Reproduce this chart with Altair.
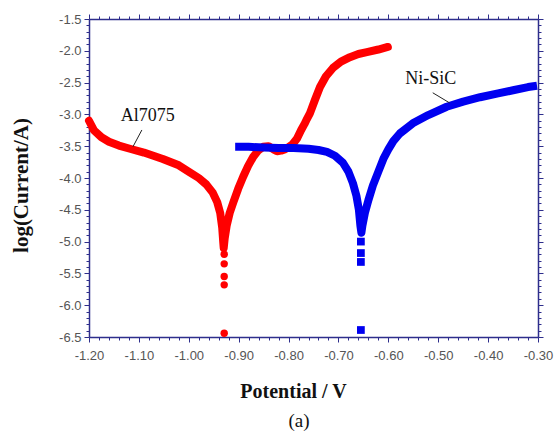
import altair as alt
import pandas as pd

# ---------------- data ----------------
al_x = [-1.200, -1.190, -1.175, -1.160, -1.140, -1.118, -1.090, -1.052, -1.020, -0.998,
        -0.980, -0.965, -0.952, -0.943, -0.937, -0.933, -0.931, -0.930, -0.928, -0.924,
        -0.918, -0.911, -0.901, -0.891, -0.881, -0.871, -0.861, -0.851, -0.840, -0.830,
        -0.823, -0.815, -0.808, -0.801, -0.792, -0.783, -0.775, -0.768, -0.763, -0.757,
        -0.747, -0.737, -0.725, -0.711, -0.695, -0.677, -0.660, -0.643, -0.620, -0.601]
al_y = [-3.10, -3.25, -3.36, -3.43, -3.49, -3.54, -3.60, -3.70, -3.80, -3.91,
        -4.00, -4.10, -4.23, -4.38, -4.55, -4.78, -5.00, -5.10, -4.95, -4.75,
        -4.55, -4.39, -4.17, -3.98, -3.81, -3.67, -3.57, -3.51, -3.50, -3.55,
        -3.58, -3.57, -3.55, -3.52, -3.47, -3.38, -3.25, -3.15, -3.07, -2.98,
        -2.77, -2.57, -2.40, -2.27, -2.17, -2.10, -2.05, -2.02, -1.98, -1.94]
al_dot_x = [-0.929, -0.929, -0.929, -0.929, -0.929]
al_dot_y = [-5.20, -5.35, -5.55, -5.68, -6.44]

ni_x = [-0.907, -0.880, -0.850, -0.820, -0.790, -0.760, -0.740, -0.723, -0.707, -0.691,
        -0.680, -0.671, -0.664, -0.659, -0.656, -0.654, -0.652, -0.647, -0.640, -0.631,
        -0.620, -0.610, -0.600, -0.590, -0.577, -0.551, -0.520, -0.483, -0.450, -0.416,
        -0.380, -0.350, -0.320, -0.302]
ni_y = [-3.51, -3.51, -3.52, -3.53, -3.53, -3.54, -3.56, -3.59, -3.65, -3.76,
        -3.90, -4.08, -4.28, -4.50, -4.75, -4.86, -4.75, -4.55, -4.35, -4.12,
        -3.90, -3.70, -3.55, -3.42, -3.30, -3.14, -3.01, -2.88, -2.80, -2.73,
        -2.67, -2.62, -2.57, -2.55]
ni_dot_x = [-0.655, -0.655, -0.655, -0.655]
ni_dot_y = [-5.00, -5.18, -5.32, -6.39]

labels = ["Al7075", "Ni-SiC"]
label_x = [-1.082, -0.515]
label_y = [-3.03, -2.44]
leader_x = [-1.094, -0.511]
leader_y = [-3.245, -2.66]
leader_x2 = [-1.112, -0.477]
leader_y2 = [-3.51, -2.82]

x_ticks = [round(-1.2 + 0.02 * i, 2) for i in range(46)]
y_ticks = [round(-6.5 + 0.1 * i, 1) for i in range(51)]

# ---------------- frames ----------------
al = pd.DataFrame({"x": al_x, "y": al_y, "i": range(len(al_x))})
al_dots = pd.DataFrame({"x": al_dot_x, "y": al_dot_y})
ni = pd.DataFrame({"x": ni_x, "y": ni_y, "i": range(len(ni_x))})
ni_dots = pd.DataFrame({"x": ni_dot_x, "y": ni_dot_y})
ann = pd.DataFrame({"label": labels, "x": label_x, "y": label_y,
                    "lx": leader_x, "ly": leader_y, "lx2": leader_x2, "ly2": leader_y2})

RED = "#ff0000"
BLUE = "#0000f0"
AXC = "#2e2e8c"
XDOM = [-1.2, -0.3]
YDOM = [-6.5, -1.5]

x_major = "abs(datum.value*10 - round(datum.value*10)) < 0.001"
y_major = "abs(datum.value*2 - round(datum.value*2)) < 0.001"

def xaxis(orient, labels_on):
    kw = dict(
        orient=orient, values=x_ticks, grid=False,
        domainColor=AXC, domainWidth=1.5, tickColor=AXC, tickWidth=1,
        tickSize={"condition": {"test": x_major, "value": 5}, "value": 3},
        labels=labels_on, labelOverlap=False, labelFlush=False,
    )
    if labels_on:
        kw.update(
            labelExpr=f"{x_major} ? replace(format(datum.value, '.2f'), '\u2212', '-') : ''",
            labelFont="Liberation Sans", labelFontSize=13, labelColor="#555555",
            labelPadding=7,
            title="Potential / V", titleFont="Liberation Serif", titleFontSize=20,
            titleFontWeight="bold", titleColor="#111111",
            titleX=204, titleY=60, titleBaseline="alphabetic",
        )
    else:
        kw.update(title=None)
    return alt.Axis(**kw)

def yaxis(orient, labels_on):
    kw = dict(
        orient=orient, values=y_ticks, grid=False,
        domainColor=AXC, domainWidth=1.5, tickColor=AXC, tickWidth=1,
        tickSize={"condition": {"test": y_major, "value": 5}, "value": 3},
        labels=labels_on, labelOverlap=False, labelFlush=False,
    )
    if labels_on:
        kw.update(
            labelExpr=f"{y_major} ? replace(format(datum.value, '.1f'), '\u2212', '-') : ''",
            labelFont="Liberation Sans", labelFontSize=13, labelColor="#555555",
            labelPadding=3,
            title="log(Current/A)", titleFont="Liberation Serif", titleFontSize=21,
            titleFontWeight="bold", titleColor="#111111",
            titleX=-58, titleY=166,
        )
    else:
        kw.update(title=None)
    return alt.Axis(**kw)

xs = alt.Scale(domain=XDOM, nice=False, zero=False)
ys = alt.Scale(domain=YDOM, nice=False, zero=False)

red_line = alt.Chart(al).mark_line(color=RED, strokeWidth=8, strokeCap="round",
                                   strokeJoin="round").encode(
    x=alt.X("x:Q", scale=xs, axis=xaxis("bottom", True)),
    y=alt.Y("y:Q", scale=ys, axis=yaxis("left", True)),
    order="i:Q",
)
blue_line = alt.Chart(ni).mark_line(color=BLUE, strokeWidth=8, strokeCap="butt",
                                    strokeJoin="round").encode(
    x=alt.X("x:Q", scale=xs, axis=xaxis("top", False)),
    y=alt.Y("y:Q", scale=ys, axis=yaxis("right", False)),
    order="i:Q",
)
red_dots = alt.Chart(al_dots).mark_point(shape="circle", filled=True, color=RED,
                                         size=55, opacity=1).encode(
    x=alt.X("x:Q", scale=xs, axis=None),
    y=alt.Y("y:Q", scale=ys, axis=None),
)
blue_dots = alt.Chart(ni_dots).mark_point(shape="square", filled=True, color=BLUE,
                                          size=60, opacity=1).encode(
    x=alt.X("x:Q", scale=xs, axis=None),
    y=alt.Y("y:Q", scale=ys, axis=None),
)
leaders = alt.Chart(ann).mark_rule(color="#222222", strokeWidth=1).encode(
    x=alt.X("lx:Q", scale=xs, axis=None),
    y=alt.Y("ly:Q", scale=ys, axis=None),
    x2="lx2:Q",
    y2="ly2:Q",
)
ann_text = alt.Chart(ann).mark_text(font="Liberation Serif", fontSize=18,
                                    color="#111111", baseline="middle").encode(
    x=alt.X("x:Q", scale=xs, axis=None),
    y=alt.Y("y:Q", scale=ys, axis=None),
    text="label:N",
)
panel = alt.Chart(pd.DataFrame({"t": ["(a)"]})).mark_text(
    font="Liberation Serif", fontSize=19, color="#111111", baseline="middle"
).encode(x=alt.value(210), y=alt.value(402), text="t:N")

chart = alt.layer(
    red_line, blue_line, red_dots, blue_dots, leaders, ann_text, panel
).resolve_axis(x="independent", y="independent").properties(
    width=449, height=318,
    autosize=alt.AutoSizeParams(type="none"),
    padding={"left": 89, "top": 19, "right": 17, "bottom": 99},
    background="white",
).configure_view(stroke=None)

chart.save("out.html", embed_options={"renderer": "svg", "actions": False})
